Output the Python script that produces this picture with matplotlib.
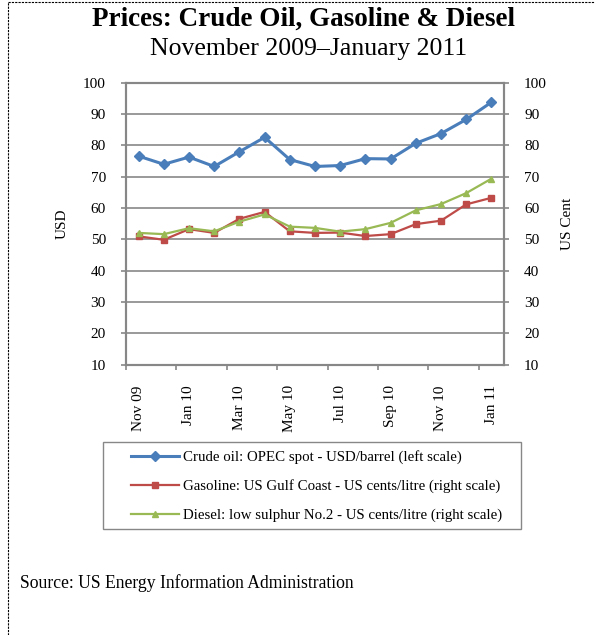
import matplotlib
matplotlib.use("Agg")
import matplotlib.pyplot as plt
from matplotlib.lines import Line2D
from matplotlib.patches import Rectangle

plt.rcParams['font.family'] = ['Liberation Serif', 'DejaVu Serif']

months = ["Nov 09", "Dec 09", "Jan 10", "Feb 10", "Mar 10", "Apr 10", "May 10", "Jun 10",
          "Jul 10", "Aug 10", "Sep 10", "Oct 10", "Nov 10", "Dec 10", "Jan 11"]
crude = [76.5, 73.9, 76.2, 73.2, 77.9, 82.5, 75.4, 73.2, 73.5, 75.7, 75.6, 80.6, 83.7, 88.2, 93.7]
gasoline = [50.9, 49.8, 53.2, 52.0, 56.5, 58.7, 52.5, 52.0, 52.1, 51.0, 51.6, 54.8, 55.9, 61.1, 63.2]
diesel = [52.0, 51.6, 53.5, 52.5, 55.6, 57.9, 54.0, 53.6, 52.4, 53.2, 55.2, 59.2, 61.2, 64.7, 69.3]

legend_labels = ["Crude oil: OPEC spot - USD/barrel (left scale)",
                 "Gasoline: US Gulf Coast - US cents/litre (right scale)",
                 "Diesel: low sulphur No.2 - US cents/litre (right scale)"]

W, H = 595, 635
fig = plt.figure(figsize=(W / 100, H / 100), dpi=100)
ax = fig.add_axes([126 / W, 1 - 364.5 / H, (504 - 126) / W, (364.5 - 82.5) / H])
ax2 = ax.twinx()

grey = "#878787"
x = list(range(len(months)))

l1, = ax.plot(x, crude, "-D", color="#4A7EBB", lw=2.2, ms=5.5, label=legend_labels[0])
l2, = ax2.plot(x, gasoline, "-s", color="#BE4B48", lw=1.6, ms=5, label=legend_labels[1])
l3, = ax2.plot(x, diesel, "-^", color="#98B954", lw=1.6, ms=5, label=legend_labels[2])

for a in (ax, ax2):
    a.set_ylim(10, 100)
    a.set_yticks(range(10, 101, 10))
    a.set_xlim(-0.5, len(months) - 0.5)
    for s in a.spines.values():
        s.set_color(grey)
        s.set_linewidth(1.5)
    a.tick_params(axis="y", colors=grey, labelcolor="black", length=3.5, width=1.2,
                  pad=11, labelsize=11)

ax.grid(axis="y", color=grey, lw=1.2)
ax.set_axisbelow(True)

ax.set_xticks(x[::2])
ax.set_xticklabels(months[::2], rotation=90)
ax.set_xticks([i + 1.5 for i in range(-2, len(months) - 2, 2)], minor=True)
ax.tick_params(axis="x", which="major", length=0, pad=15, labelsize=11)
ax.tick_params(axis="x", which="minor", length=3.8, width=1.2, colors=grey)

ax.set_ylabel("USD", fontsize=11, labelpad=10)
ax2.set_ylabel("US Cent", fontsize=11, labelpad=10)

fig.text(303 / W, 1 - 19 / H, "Prices: Crude Oil, Gasoline & Diesel", ha="center", va="center",
         fontsize=19.5, fontweight="bold")
fig.text(309 / W, 1 - 49 / H, "November 2009\u2013January 2011", ha="center", va="center",
         fontsize=18.5)

# legend box drawn separately so the inner spacing can follow the original
fig.add_artist(Rectangle((103 / W, 1 - 529 / H), (521 - 103) / W, (529 - 442) / H,
                         transform=fig.transFigure, fill=False, edgecolor=grey, lw=1.0))
leg = fig.legend(handles=[l1, l2, l3], loc="upper left", bbox_to_anchor=(131 / W, 1 - 450 / H),
                 borderaxespad=0, borderpad=0, fontsize=10.7, frameon=False, handlelength=3.2,
                 labelspacing=1.04, handletextpad=0.3)

fig.text(20 / W, 1 - 583 / H, "Source: US Energy Information Administration", ha="left", va="center",
         fontsize=12.7)

# dashed frame, top and left edges
fig.add_artist(Line2D([8 / W, 1], [1 - 1.5 / H, 1 - 1.5 / H], color="black", lw=0.8, ls=(0, (2, 1))))
fig.add_artist(Line2D([8 / W, 8 / W], [0, 1 - 1.5 / H], color="black", lw=0.8, ls=(0, (2, 1))))

plt.savefig("out.png", dpi=100)
